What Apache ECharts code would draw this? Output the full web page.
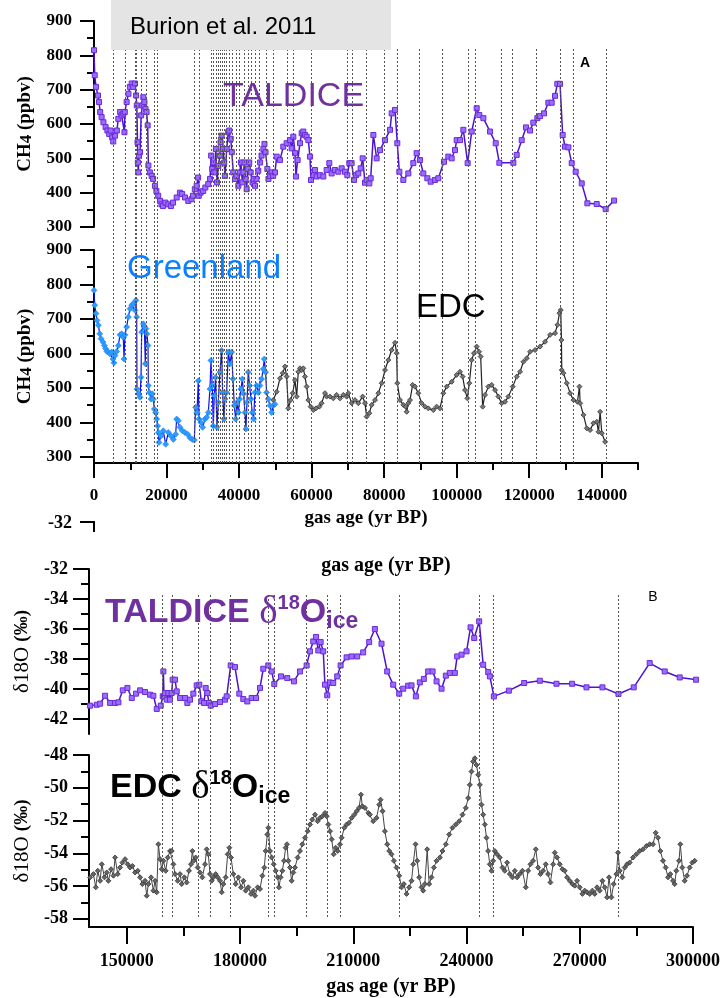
<!DOCTYPE html>
<html><head><meta charset="utf-8">
<script src="https://cdn.jsdelivr.net/npm/echarts@6/dist/echarts.min.js"></script>
<style>html,body{margin:0;padding:0;background:#fff}#c{width:728px;height:998px}</style>
</head><body><div id="c"></div>
<script>
// ---------- DATA ----------
const taldiceCH4 = [[0,815],[200,742],[550,708],[1100,683],[1400,664],[1700,635],[2100,620],[2600,605],[3200,591],[3700,581],[4200,571],[4600,581],[5000,561],[5300,549],[5800,566],[6300,581],[6700,615],[7200,635],[7600,625],[8100,630],[8400,576],[8500,635],[9000,664],[9500,688],[9900,708],[10400,718],[10800,708],[11300,718],[11600,683],[11800,654],[12000,547],[12100,488],[12200,459],[12400,508],[12700,518],[13000,625],[13300,654],[13600,678],[13900,664],[14200,644],[14500,635],[14800,596],[15000,479],[15400,459],[15900,449],[16300,440],[16800,420],[17200,405],[17700,391],[18200,376],[18600,366],[19000,361],[19700,371],[20500,366],[21200,361],[21800,371],[22800,386],[23700,400],[24300,396],[25100,386],[26000,376],[26900,381],[27300,391],[27800,410],[28300,420],[28700,444],[28900,391],[29400,400],[30100,405],[30700,415],[31500,425],[32000,440],[32300,508],[32600,469],[32900,488],[33200,459],[33600,527],[33900,430],[34300,478],[34700,508],[34900,547],[35200,566],[35600,527],[35900,488],[36100,449],[36600,527],[37000,576],[37300,581],[37700,557],[38000,518],[38400,459],[38900,440],[39300,449],[39800,420],[40200,459],[40500,488],[40900,430],[41200,459],[41500,488],[41800,440],[42100,410],[42400,469],[42800,488],[43200,459],[43700,430],[44000,440],[44400,420],[44800,440],[45300,464],[45800,488],[46200,508],[46700,527],[47000,542],[47300,518],[47800,469],[48100,440],[48500,449],[49000,459],[49400,449],[49900,459],[50370,505],[51280,495],[52200,534],[53120,544],[54040,553],[54500,529],[54960,563],[55420,515],[55690,447],[56150,495],[56800,544],[57260,573],[57710,578],[58170,568],[58640,563],[59100,553],[59550,505],[59830,437],[60470,451],[60930,466],[61390,447],[62310,451],[63230,447],[64150,466],[64880,486],[65520,456],[66440,466],[67360,461],[68290,471],[69210,461],[69850,451],[70400,486],[71040,486],[71690,437],[72240,451],[72880,456],[73520,471],[74080,500],[74720,429],[75180,437],[75920,427],[76290,442],[77030,568],[77940,500],[78860,524],[80240,553],[81620,583],[82080,631],[83000,641],[83630,544],[84190,461],[85290,437],[86670,456],[88050,486],[88960,515],[89880,495],[90800,456],[91910,442],[92820,432],[94020,437],[94940,442],[96500,490],[97700,505],[98620,500],[99540,524],[100000,553],[100920,553],[101840,583],[103030,486],[104140,578],[105520,646],[106250,626],[107360,617],[109200,578],[110760,544],[111770,487],[115630,487],[116550,510],[117930,553],[119120,590],[120230,581],[121140,604],[122250,617],[122980,623],[124080,631],[125280,662],[126200,662],[127120,682],[127760,717],[128500,717],[129230,568],[129880,534],[130800,532],[131720,486],[132820,461],[134480,427],[136040,369],[138610,367],[141090,352],[143390,377]];

const greenlandCH4 = [[0,783],[200,740],[550,716],[830,696],[1200,682],[1580,657],[1930,643],[2480,633],[2850,623],[3220,614],[3580,606],[3950,604],[4400,599],[4870,604],[5240,584],[5510,573],[5790,594],[6250,606],[6700,623],[7170,654],[7630,657],[8080,647],[8270,584],[8540,654],[9000,677],[9470,706],[9930,730],[10390,740],[10850,745],[11300,725],[11580,754],[11770,706],[11860,497],[12230,483],[12680,473],[12960,531],[13140,662],[13600,686],[13880,677],[14150,570],[14340,672],[14610,657],[14890,623],[14980,507],[15260,487],[15720,468],[16080,483],[16360,468],[16630,439],[17000,429],[17270,410],[17550,390],[17730,371],[17920,342],[18470,361],[19110,376],[19760,337],[20490,371],[21230,361],[21870,351],[22510,366],[22790,410],[23250,405],[23700,386],[24350,376],[25080,371],[25820,366],[26460,356],[27100,351],[27660,349],[28020,444],[28390,429],[28760,521],[28940,410],[29490,400],[29950,386],[30600,410],[31060,415],[31520,429],[31970,497],[32250,580],[32610,507],[32890,390],[33170,478],[33530,531],[33900,386],[34270,458],[34730,546],[35190,609],[35470,487],[35830,410],[36100,468],[36570,487],[37030,604],[37490,570],[37950,604],[38320,526],[38680,449],[39050,410],[39420,458],[39790,429],[40150,468],[40520,497],[40890,526],[41250,483],[41620,429],[41900,381],[42170,458],[42540,546],[42910,507],[43270,468],[43640,429],[44010,410],[44370,487],[44830,507],[45290,487],[45750,507],[46220,526],[46670,555],[46950,584],[47320,546],[47590,487],[48050,468],[48510,449],[48970,429],[49430,449],[49890,453]];

const edcCH4 = [[49440,465],[50370,489],[51280,528],[52020,543],[52660,562],[53120,533],[53580,441],[54240,465],[54790,485],[55420,523],[55880,475],[56330,547],[56800,557],[57260,552],[57710,557],[58170,533],[58640,504],[59100,465],[59740,446],[60470,436],[61210,441],[62130,446],[62770,456],[63690,485],[64150,475],[65070,475],[65980,470],[66900,480],[67820,470],[68740,480],[69660,475],[70120,485],[71040,456],[71960,465],[72880,456],[74080,475],[74720,456],[75180,417],[75920,427],[76570,451],[77490,465],[78410,485],[79330,514],[80240,552],[81160,581],[82080,610],[83000,631],[83460,601],[83630,514],[84370,465],[85290,451],[85930,446],[86220,431],[86670,456],[87130,465],[87860,509],[88510,504],[89420,485],[90340,456],[91260,446],[92180,441],[93560,436],[94480,446],[95400,441],[96320,485],[97240,504],[98620,518],[100000,538],[100920,547],[101650,533],[102300,494],[102940,470],[103490,514],[104140,581],[104780,601],[105520,620],[106160,605],[106620,591],[107170,446],[107820,480],[108740,504],[109660,509],[110580,494],[111500,475],[112420,456],[113340,460],[114260,475],[115460,504],[116560,533],[117480,547],[118400,576],[119320,586],[120240,605],[121620,610],[123000,620],[124380,634],[125760,654],[127140,659],[127780,683],[128340,717],[128700,726],[128890,639],[128980,552],[129440,543],[130360,514],[131280,485],[132200,465],[133300,460],[133860,504],[134040,456],[134960,422],[135880,383],[136800,378],[137720,398],[138640,402],[139100,373],[139560,431],[140020,369],[140940,344]];

const taldiceD18O = [[140290,-41.11],[142060,-41.05],[142940,-40.98],[144260,-40.45],[145590,-40.93],[146910,-40.93],[147790,-40.89],[148950,-40.09],[150170,-39.93],[151330,-40.6],[152470,-40.31],[153530,-40.09],[154850,-40.2],[156170,-40.38],[157050,-40.45],[157950,-41.33],[159010,-41.11],[159540,-40.49],[159700,-38.83],[159880,-40.49],[160140,-40.27],[160580,-40.71],[161020,-40.27],[161460,-40.71],[161900,-40.27],[162170,-39.38],[162790,-39.38],[163240,-40.16],[164120,-40.6],[165440,-40.6],[166050,-40.93],[166760,-40.71],[167640,-40.31],[168530,-39.76],[169220,-39.71],[169750,-40.82],[170470,-40.93],[170910,-39.93],[171340,-40.27],[171790,-40.93],[172240,-41.11],[173380,-41.0],[174700,-40.87],[176030,-40.71],[176470,-40.49],[177530,-38.43],[178670,-38.54],[179810,-40.31],[180870,-40.67],[181930,-40.83],[183090,-40.6],[184240,-40.6],[185290,-39.93],[186170,-38.65],[187490,-38.43],[188400,-38.83],[189080,-39.67],[190860,-39.16],[192520,-39.27],[194290,-39.49],[195880,-38.83],[197650,-38.43],[198530,-37.49],[199410,-36.83],[200120,-36.53],[200730,-37.43],[201360,-36.87],[202050,-37.49],[202500,-39.71],[203110,-40.42],[203820,-39.56],[204690,-39.6],[205750,-39.16],[206650,-38.43],[208240,-37.89],[209560,-37.83],[211040,-37.83],[212630,-37.56],[214220,-36.87],[215730,-36.0],[217490,-36.98],[218990,-38.83],[220580,-39.71],[222170,-40.31],[223230,-39.98],[224550,-39.78],[225430,-39.76],[226580,-40.49],[227640,-39.56],[228700,-39.33],[229840,-38.83],[231010,-38.83],[232070,-39.49],[233390,-39.98],[234530,-39.11],[235590,-38.93],[236910,-38.93],[237530,-37.83],[238690,-37.71],[240010,-37.49],[241070,-35.89],[242040,-36.6],[243360,-35.49],[244420,-38.38],[245750,-38.87],[246190,-39.16],[247250,-40.49],[251220,-40.11],[255270,-39.6],[259420,-39.45],[263840,-39.65],[267970,-39.65],[271780,-39.89],[276010,-39.89],[280250,-40.33],[284300,-39.89],[288530,-38.27],[292510,-38.83],[296480,-39.23],[300800,-39.38]];

const edcD18O = [[140290,-55.47],[141170,-55.27],[141790,-56.08],[142320,-55.07],[142940,-55.68],[143380,-54.67],[144090,-55.47],[144700,-55.17],[145140,-55.68],[145850,-54.97],[146470,-55.37],[146910,-54.26],[147610,-55.27],[148230,-54.87],[148850,-54.57],[149560,-54.36],[150260,-54.67],[150880,-54.87],[151500,-54.77],[152200,-55.17],[152910,-55.07],[153530,-55.47],[154140,-55.88],[154850,-55.68],[155290,-56.59],[155730,-55.88],[156440,-55.47],[157060,-56.28],[157500,-55.68],[157940,-56.38],[158380,-53.45],[158820,-54.36],[159260,-54.97],[159710,-54.46],[160320,-55.07],[160850,-54.26],[161470,-53.86],[161910,-53.86],[162350,-54.67],[162790,-55.27],[163500,-55.68],[164110,-55.27],[164550,-55.88],[165260,-55.47],[165880,-55.78],[166490,-55.07],[167020,-54.67],[167380,-53.86],[167730,-54.46],[168260,-54.26],[168790,-54.87],[169410,-55.17],[170020,-55.47],[170730,-54.67],[171170,-53.76],[171610,-54.06],[172050,-55.27],[172500,-55.68],[172940,-55.47],[173560,-55.27],[174090,-55.47],[174710,-55.68],[175150,-56.38],[175590,-55.88],[176210,-55.47],[176740,-54.06],[177180,-53.66],[177620,-54.26],[178240,-55.27],[178860,-55.88],[179560,-55.47],[180270,-56.08],[180890,-55.68],[181500,-56.28],[182210,-56.08],[182920,-56.48],[183540,-56.28],[183980,-56.59],[184680,-56.08],[185300,-56.18],[185920,-55.37],[186450,-54.87],[186800,-53.86],[187240,-52.85],[187510,-52.44],[187950,-53.86],[188390,-54.26],[188920,-54.67],[189450,-55.07],[189980,-55.47],[190320,-56.08],[190760,-55.47],[191210,-55.07],[191650,-54.46],[192090,-53.66],[192440,-53.45],[192800,-54.46],[193240,-54.87],[193680,-55.68],[194120,-55.17],[194560,-54.87],[195270,-54.26],[195890,-53.86],[196510,-53.45],[197220,-53.05],[197920,-52.65],[198540,-52.24],[199160,-51.94],[199870,-51.64],[200570,-52.04],[201190,-51.84],[201810,-51.74],[202520,-51.54],[202960,-51.74],[203400,-52.24],[203840,-52.65],[204280,-53.15],[204810,-54.06],[205340,-53.66],[205870,-53.86],[206490,-53.45],[206930,-53.05],[207640,-52.44],[208260,-52.24],[208880,-52.14],[209580,-51.84],[210290,-51.64],[210910,-51.43],[211530,-51.23],[212050,-50.42],[212410,-51.13],[213120,-51.23],[214000,-51.54],[214410,-51.64],[215290,-52.04],[216170,-51.84],[216880,-51.03],[217230,-50.73],[217760,-51.43],[218380,-52.65],[219000,-53.45],[219530,-53.86],[220140,-54.06],[220760,-54.46],[221470,-54.87],[222170,-55.37],[222790,-56.08],[223410,-55.88],[224120,-56.48],[224820,-56.08],[225440,-55.68],[225880,-54.67],[226500,-53.45],[226940,-54.46],[227470,-55.47],[228090,-56.08],[228530,-56.28],[228970,-55.88],[229590,-53.76],[230110,-55.88],[230730,-55.47],[231350,-54.87],[232060,-54.46],[232940,-54.26],[233640,-53.86],[234530,-53.45],[235410,-52.85],[236290,-52.44],[237170,-52.24],[238060,-52.04],[238940,-51.64],[239820,-51.23],[240440,-50.63],[240880,-49.82],[241320,-49.01],[241760,-48.4],[242200,-48.2],[242640,-48.61],[243090,-49.21],[243530,-49.82],[243970,-51.03],[244410,-51.64],[244850,-52.24],[245290,-53.05],[245730,-53.86],[246170,-54.67],[246620,-55.07],[247060,-54.46],[247500,-53.86],[248110,-54.06],[248820,-54.26],[249530,-54.87],[250140,-55.07],[250760,-54.57],[251470,-55.27],[252170,-55.47],[252790,-55.07],[253410,-55.47],[254110,-55.27],[254820,-55.07],[255700,-56.08],[256320,-55.07],[256940,-54.67],[257640,-54.46],[258350,-53.76],[258970,-54.87],[259580,-55.27],[260290,-55.07],[260990,-54.67],[261610,-55.27],[262230,-55.78],[262940,-54.67],[263380,-53.96],[264000,-54.26],[264700,-54.67],[265410,-54.97],[266030,-55.07],[266640,-55.47],[267350,-55.68],[268060,-55.88],[268670,-55.98],[269290,-55.68],[269990,-56.08],[270700,-56.48],[271320,-56.28],[271940,-56.38],[272640,-56.48],[273350,-56.28],[273970,-56.48],[274580,-56.08],[275290,-56.28],[275990,-55.68],[276610,-56.08],[277230,-56.69],[277760,-55.47],[278380,-56.69],[279000,-55.88],[279700,-55.27],[280140,-53.96],[280590,-55.07],[281290,-55.47],[281910,-54.87],[282530,-54.67],[283230,-54.57],[284110,-54.26],[285000,-54.06],[285880,-53.86],[286760,-53.76],[287650,-53.56],[288530,-53.45],[289410,-53.45],[290120,-52.75],[290730,-53.05],[291350,-53.86],[292050,-54.46],[292760,-54.87],[293380,-55.47],[293990,-55.27],[294700,-55.68],[295140,-55.88],[295580,-55.07],[296290,-54.46],[296640,-53.45],[297170,-54.87],[297790,-55.68],[298410,-55.37],[299110,-54.87],[299820,-54.57],[300440,-54.46]];

const eventLinesA = [5300, 8550, 11300, 11770, 13140, 14520, 16590, 17550, 27620, 28950, 32220, 32900, 33590, 34270, 34740, 35420, 35930, 36570, 37400, 38090, 39190, 40110, 41490, 42450, 43320, 44520, 45440, 47460, 49300, 53300, 54950, 60020, 69900, 71280, 75180, 80040, 83630, 89600, 96040, 103200, 105230, 112200, 115330, 121960, 128660, 132160, 141250];
const eventLinesB = [159430, 162080, 169070, 172240, 177540, 187500, 189080, 197650, 203210, 206660, 222180, 243360, 247160, 280260];

const ch4Ticks = [300, 400, 500, 600, 700, 800, 900];
const ch4Minor = [350, 450, 550, 650, 750, 850];
const ageTicksA = [0, 20000, 40000, 60000, 80000, 100000, 120000, 140000];
const ageMinorA = [10000, 30000, 50000, 70000, 90000, 110000, 130000, 150000];
const ageTicksB = [150000, 180000, 210000, 240000, 270000, 300000];
const ageMinorB = [165000, 195000, 225000, 255000, 285000];
const taldD18Ticks = [-42, -40, -38, -36, -34, -32];
const taldD18Minor = [-41, -39, -37, -35, -33];
const edcD18Ticks = [-58, -56, -54, -52, -50, -48];
const edcD18Minor = [-57, -55, -53, -51, -49];

// ---------- CHART ----------
const SERIF = "'Liberation Serif','Times New Roman',serif";
const SANS = "'Liberation Sans',Arial,sans-serif";
const chart = echarts.init(document.getElementById('c'), null, {renderer: 'canvas'});

const axLine = {show: true, lineStyle: {color: '#000', width: 2}};
function majorAxis(extra) {
  return Object.assign({type: 'value', splitLine: {show: false}, axisLine: axLine}, extra);
}
function hiddenAxis(extra) {
  return Object.assign({type: 'value', show: false, splitLine: {show: false}}, extra);
}
function minorTickAxis(extra, vals, len) {
  return Object.assign({type: 'value', splitLine: {show: false}, axisLine: {show: false},
    axisLabel: {show: false},
    axisTick: {show: true, length: len, customValues: vals, lineStyle: {color: '#000', width: 2}}}, extra);
}
function tickLabelStyle(vals, size, margin) {
  return {show: true, customValues: vals, fontFamily: SERIF, fontWeight: 'bold', fontSize: size, color: '#000', margin: margin,
    formatter: function (v) { return String(v); }};
}

const grids = [
  {left: 94, top: 21, width: 544, height: 206},   // 0 TALDICE CH4
  {left: 94, top: 250, width: 544, height: 213},  // 1 Greenland + EDC CH4
  {left: 94, top: 49, width: 544, height: 414},   // 2 event lines A
  {left: 89, top: 569, width: 604, height: 165},  // 3 TALDICE d18O
  {left: 89, top: 755, width: 604, height: 173},  // 4 EDC d18O
  {left: 89, top: 593, width: 604, height: 324}   // 5 event lines B
];

const xAxes = [
  hiddenAxis({gridIndex: 0, min: 0, max: 150000}),
  majorAxis({gridIndex: 1, min: 0, max: 150000, position: 'bottom',
    axisTick: {show: true, length: 15, customValues: ageTicksA, lineStyle: {color: '#000', width: 2}},
    axisLabel: tickLabelStyle(ageTicksA, 17, 24),
    name: 'gas age (yr BP)', nameLocation: 'middle', nameGap: 46,
    nameTextStyle: {fontFamily: SERIF, fontWeight: 'bold', fontSize: 19, color: '#000'}}),
  minorTickAxis({gridIndex: 1, min: 0, max: 150000, position: 'bottom'}, ageMinorA, 7),
  hiddenAxis({gridIndex: 2, min: 0, max: 150000}),
  hiddenAxis({gridIndex: 3, min: 140000, max: 300000}),
  majorAxis({gridIndex: 4, min: 140000, max: 300000, position: 'bottom',
    axisTick: {show: true, length: 17, customValues: ageTicksB, lineStyle: {color: '#000', width: 2}},
    axisLabel: tickLabelStyle(ageTicksB, 18, 25),
    name: 'gas age (yr BP)', nameLocation: 'middle', nameGap: 50,
    nameTextStyle: {fontFamily: SERIF, fontWeight: 'bold', fontSize: 20, color: '#000'}}),
  minorTickAxis({gridIndex: 4, min: 140000, max: 300000, position: 'bottom'}, ageMinorB, 9),
  hiddenAxis({gridIndex: 5, min: 140000, max: 300000})
];

const ch4Name = '{b|CH}{s|4}{b| (ppbv)}';
const ch4Rich = {b: {fontFamily: SERIF, fontWeight: 'bold', fontSize: 19, color: '#000'},
                 s: {fontFamily: SERIF, fontWeight: 'bold', fontSize: 17, color: '#000', padding: [4, 0, 0, 0]}};
const dName = '{r|\u03b418O }{b|(\u2030)}';
const dRich = {r: {fontFamily: SERIF, fontSize: 21, color: '#000'},
               b: {fontFamily: SERIF, fontWeight: 'bold', fontSize: 19, color: '#000'}};

const yAxes = [
  majorAxis({gridIndex: 0, min: 300, max: 900, position: 'left',
    axisTick: {show: true, length: 14, customValues: ch4Ticks, lineStyle: {color: '#000', width: 2}},
    axisLabel: tickLabelStyle(ch4Ticks, 17, 22),
    name: ch4Name, nameLocation: 'middle', nameRotate: 90, nameGap: 58, nameTextStyle: {rich: ch4Rich}}),
  minorTickAxis({gridIndex: 0, min: 300, max: 900, position: 'left'}, ch4Minor, 7),
  majorAxis({gridIndex: 1, min: 282.6, max: 900, position: 'left',
    axisTick: {show: true, length: 14, customValues: ch4Ticks, lineStyle: {color: '#000', width: 2}},
    axisLabel: tickLabelStyle(ch4Ticks, 17, 22),
    name: ch4Name, nameLocation: 'middle', nameRotate: 90, nameGap: 58, nameTextStyle: {rich: ch4Rich}}),
  minorTickAxis({gridIndex: 1, min: 282.6, max: 900, position: 'left'}, ch4Minor, 7),
  hiddenAxis({gridIndex: 2, min: 0, max: 1}),
  majorAxis({gridIndex: 3, min: -43, max: -32, position: 'left',
    axisTick: {show: true, length: 16, customValues: taldD18Ticks, lineStyle: {color: '#000', width: 2}},
    axisLabel: tickLabelStyle(taldD18Ticks, 18, 21),
    name: dName, nameLocation: 'middle', nameRotate: 90, nameGap: 56, nameTextStyle: {rich: dRich}}),
  minorTickAxis({gridIndex: 3, min: -43, max: -32, position: 'left'}, taldD18Minor, 8),
  majorAxis({gridIndex: 4, min: -58.5, max: -48, position: 'left',
    axisTick: {show: true, length: 16, customValues: edcD18Ticks, lineStyle: {color: '#000', width: 2}},
    axisLabel: tickLabelStyle(edcD18Ticks, 18, 21),
    name: dName, nameLocation: 'middle', nameRotate: 90, nameGap: 56, nameTextStyle: {rich: dRich}}),
  minorTickAxis({gridIndex: 4, min: -58.5, max: -48, position: 'left'}, edcD18Minor, 8),
  hiddenAxis({gridIndex: 5, min: 0, max: 1})
];

const purpleMarks = {color: '#9B6CFF', borderColor: '#6A2BD8', borderWidth: 1};
function lineSeries(name, data, xi, yi, lineColor, lw, symbol, size, item) {
  return {name: name, type: 'line', data: data, xAxisIndex: xi, yAxisIndex: yi,
    symbol: symbol, symbolSize: size, showSymbol: true, clip: false,
    lineStyle: {color: lineColor, width: lw}, itemStyle: item, emphasis: {disabled: true}, z: 3};
}
function eventSeries(xi, yi, vals) {
  return {type: 'line', xAxisIndex: xi, yAxisIndex: yi, data: [[vals[0], -5]], showSymbol: false,
    lineStyle: {width: 0}, silent: true, z: 1,
    markLine: {silent: true, symbol: ['none', 'none'], label: {show: false}, animation: false,
      lineStyle: {color: '#555', type: [2, 2], width: 1},
      data: vals.map(function (v) { return {xAxis: v}; })}};
}

const series = [
  eventSeries(3, 4, eventLinesA),
  eventSeries(7, 9, eventLinesB),
  lineSeries('TALDICE CH4', taldiceCH4, 0, 0, '#4C12CF', 1.5, 'rect', 5, purpleMarks),
  lineSeries('EDC CH4', edcCH4, 1, 2, '#222', 1.2, 'diamond', 5, {color: '#777', borderColor: '#333', borderWidth: 0.8}),
  lineSeries('Greenland CH4', greenlandCH4, 1, 2, '#1010EE', 1.2, 'diamond', 6, {color: '#2E9BFF', borderColor: '#1A7FF0', borderWidth: 0.6}),
  lineSeries('TALDICE d18O', taldiceD18O, 4, 5, '#4C12CF', 1.5, 'rect', 5, purpleMarks),
  lineSeries('EDC d18O', edcD18O, 5, 7, '#444', 1, 'diamond', 5, {color: '#666', borderColor: '#333', borderWidth: 0.8})
];

const graphics = [
  {type: 'rect', shape: {x: 111, y: 0, width: 280, height: 50}, style: {fill: '#E4E4E4'}, z: 10},
  {type: 'text', z: 11, style: {x: 130, y: 27, text: 'Burion et al. 2011', font: '24px ' + SANS, fill: '#000', textAlign: 'left', textVerticalAlign: 'middle'}},
  {type: 'text', z: 11, style: {x: 223, y: 97, text: 'TALDICE', font: '34px ' + SANS, fill: '#7030A0', textAlign: 'left', textVerticalAlign: 'middle'}},
  {type: 'text', z: 11, style: {x: 585, y: 63, text: 'A', font: 'bold 14px ' + SANS, fill: '#000', textAlign: 'center', textVerticalAlign: 'middle'}},
  {type: 'text', z: 11, style: {x: 127, y: 269, text: 'Greenland', font: '33px ' + SANS, fill: '#0A80FF', textAlign: 'left', textVerticalAlign: 'middle'}},
  {type: 'text', z: 11, style: {x: 416, y: 308, text: 'EDC', font: '33px ' + SANS, fill: '#000', textAlign: 'left', textVerticalAlign: 'middle'}},
  {type: 'text', z: 11, style: {x: 653, y: 597, text: 'B', font: '14px ' + SANS, fill: '#000', textAlign: 'center', textVerticalAlign: 'middle'}},
  {type: 'text', z: 11, style: {x: 386, y: 566, text: 'gas age (yr BP)', font: 'bold 20px ' + SERIF, fill: '#000', textAlign: 'center', textVerticalAlign: 'middle'}},
  {type: 'text', z: 11, style: {x: 72, y: 523, text: '-32', font: 'bold 18px ' + SERIF, fill: '#000', textAlign: 'right', textVerticalAlign: 'middle'}},
  {type: 'polyline', z: 11, shape: {points: [[80, 522], [94, 522], [94, 532]]}, style: {stroke: '#000', lineWidth: 2, fill: null}},
  {type: 'text', z: 11, style: {x: 105, y: 613,
    text: '{a|TALDICE }{d|\u03b4}{s|18}{a|O}{i|ice}',
    rich: {a: {font: 'bold 34px ' + SANS, fill: '#7030A0', lineHeight: 40, verticalAlign: 'middle'},
           d: {font: '39px ' + SERIF, fill: '#7030A0', lineHeight: 40, verticalAlign: 'middle'},
           s: {font: 'bold 20px ' + SANS, fill: '#7030A0', lineHeight: 26, verticalAlign: 'top'},
           i: {font: 'bold 23px ' + SANS, fill: '#7030A0', lineHeight: 26, verticalAlign: 'bottom'}},
    textAlign: 'left', textVerticalAlign: 'middle'}},
  {type: 'text', z: 11, style: {x: 110, y: 788,
    text: '{a|EDC }{d|\u03b4}{s|18}{a|O}{i|ice}',
    rich: {a: {font: 'bold 34px ' + SANS, fill: '#000', lineHeight: 40, verticalAlign: 'middle'},
           d: {font: '39px ' + SERIF, fill: '#000', lineHeight: 40, verticalAlign: 'middle'},
           s: {font: 'bold 20px ' + SANS, fill: '#000', lineHeight: 26, verticalAlign: 'top'},
           i: {font: 'bold 23px ' + SANS, fill: '#000', lineHeight: 26, verticalAlign: 'bottom'}},
    textAlign: 'left', textVerticalAlign: 'middle'}}
];

chart.setOption({
  animation: false,
  backgroundColor: '#fff',
  grid: grids,
  xAxis: xAxes,
  yAxis: yAxes,
  series: series,
  graphic: graphics
});
</script>
</body></html>
